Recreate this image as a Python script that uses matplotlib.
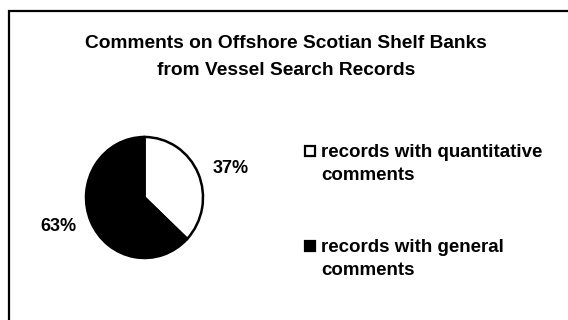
import numpy as np
import matplotlib
matplotlib.use("Agg")
import matplotlib.pyplot as plt
from matplotlib.patches import Rectangle

title_lines = ["Comments on Offshore Scotian Shelf Banks", "from Vessel Search Records"]
categories = [["records with quantitative", "comments"], ["records with general", "comments"]]
shares = [37, 63]
colors = ["white", "black"]

plt.rcParams['font.family'] = ['Liberation Sans', 'DejaVu Sans']

W, H = 568, 320
fig = plt.figure(figsize=(W / 100, H / 100), dpi=100)
fig.patch.set_facecolor("white")

def fy(py):
    # pixel row from the top -> figure fraction
    return 1 - py / H

# outer frame (only left and top edges fall inside the picture)
fig.patches.append(Rectangle((9 / W, -0.1), 1.2, fy(11) + 0.1, transform=fig.transFigure,
                             fill=False, edgecolor="black", linewidth=1.6))

for line, base in zip(title_lines, [48, 75]):
    fig.text(286 / W, fy(base), line, ha="center", va="baseline", fontsize=13.8,
             fontweight="bold")

# pie, slightly taller than wide as in the scan
ax = fig.add_axes([86 / W, fy(258), 117 / W, 121 / H])
wedges, _ = ax.pie(shares, colors=colors, startangle=90, counterclock=False,
                   wedgeprops=dict(edgecolor="black", linewidth=1.8))
for w in wedges:
    w.set_clip_on(False)
ax.set_aspect("auto")
ax.set_xlim(-1, 1)
ax.set_ylim(-1, 1)
ax.axis("off")

for w, s in zip(wedges, shares):
    mid = np.deg2rad((w.theta1 + w.theta2) / 2)
    ax.text(1.6 * np.cos(mid), 1.22 * np.sin(mid), f"{s}%", ha="center", va="center",
            fontsize=13, fontweight="bold")

# legend drawn by hand so the swatch sits on the first line
for i, (lab, c) in enumerate(zip(categories, colors)):
    base = 157 + 94.5 * i
    fig.patches.append(Rectangle((305 / W, fy(base - 1)), 10 / W, 10 / H,
                                 transform=fig.transFigure,
                                 facecolor=c, edgecolor="black", linewidth=1.6))
    for j, part in enumerate(lab):
        fig.text(321 / W, fy(base + 23.5 * j), part, ha="left", va="baseline",
                 fontsize=13.5, fontweight="bold")

fig.savefig("out.png", dpi=100)
